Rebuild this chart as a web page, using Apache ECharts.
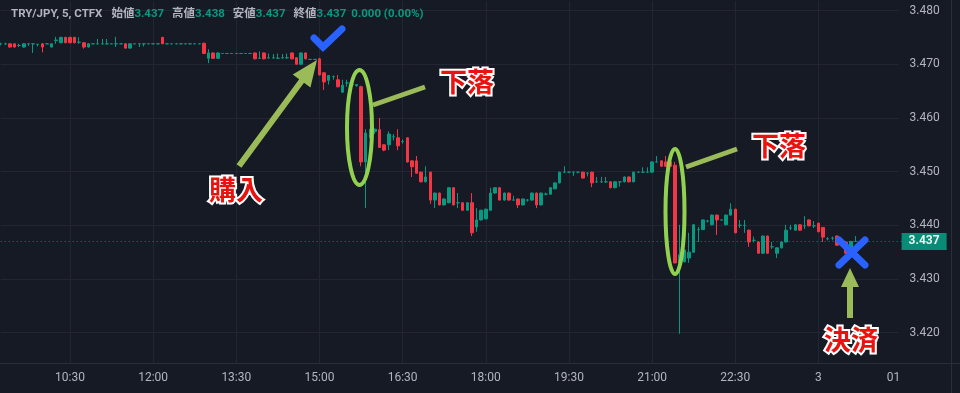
<!DOCTYPE html>
<html><head><meta charset="utf-8">
<script src="https://cdn.jsdelivr.net/npm/echarts@6/dist/echarts.min.js"></script>
<style>html,body{margin:0;padding:0;background:#161a25;}#c{width:960px;height:393px;}</style>
</head><body><div id="c"></div>
<script>
// ---------- data ----------
const symbolText = 'TRY/JPY, 5, CTFX';
const startTime = '09:15';
const categoryCount = 196;            // 5-minute slots shown on the axis
const tickTimes = ['10:30','12:00','13:30','15:00','16:30','18:00','19:30','21:00','22:30','00:00','01:30'];
const tickLabelMap = {'00:00':'3'};
const priceTicks = [3.42,3.43,3.44,3.45,3.46,3.47,3.48];
const priceMin = 3.41, priceMax = 3.48196;
// candles: [open, close, low, high]
const session0915 = [
 [3.4738,3.4738,3.4735,3.4740],[3.4738,3.4738,3.4736,3.4740],[3.4738,3.4732,3.4731,3.4739],
 [3.4738,3.4732,3.4731,3.4739],[3.4735,3.4735,3.4732,3.4738],[3.4732,3.4738,3.4731,3.4739],
 [3.4738,3.4738,3.4734,3.4739],[3.4738,3.4738,3.4721,3.4739],[3.4737,3.4737,3.4733,3.4738],
 [3.4738,3.4732,3.4722,3.4739],[3.4738,3.4738,3.4738,3.4738],[3.4732,3.4738,3.4731,3.4738],
 [3.4744,3.4745,3.4738,3.4751],[3.4740,3.4750,3.4739,3.4751],[3.4750,3.4740,3.4739,3.4751]
];
const session1030 = [
 [3.4750,3.4740,3.4739,3.4751],[3.4750,3.4740,3.4739,3.4751],[3.4741,3.4741,3.4738,3.4750],
 [3.4740,3.4732,3.4729,3.4741],[3.4732,3.4738,3.4731,3.4739],[3.4738,3.4738,3.4738,3.4738],
 [3.4738,3.4738,3.4737,3.4747],[3.4738,3.4738,3.4737,3.4747],[3.4738,3.4738,3.4737,3.4747],
 [3.4738,3.4738,3.4738,3.4738],[3.4738,3.4738,3.4732,3.4751],[3.4738,3.4738,3.4738,3.4738],
 [3.4738,3.4730,3.4729,3.4739],[3.4730,3.4738,3.4729,3.4739],[3.4738,3.4738,3.4738,3.4738],
 [3.4738,3.4738,3.4732,3.4739],[3.4738,3.4738,3.4733,3.4739],[3.4738,3.4738,3.4738,3.4738]
];
const session1200 = [
 [3.4738,3.4738,3.4738,3.4738],[3.4738,3.4738,3.4738,3.4738],[3.4750,3.4738,3.4738,3.4751],
 [3.4738,3.4738,3.4738,3.4738],[3.4738,3.4738,3.4738,3.4738],[3.4738,3.4738,3.4738,3.4738],
 [3.4738,3.4738,3.4738,3.4738],[3.4738,3.4738,3.4738,3.4738],[3.4738,3.4738,3.4738,3.4738],
 [3.4738,3.4738,3.4738,3.4738],[3.4738,3.4738,3.4738,3.4738],[3.4739,3.4720,3.4719,3.4740],
 [3.4711,3.4721,3.4702,3.4728],[3.4721,3.4711,3.4710,3.4722],[3.4711,3.4721,3.4710,3.4722],
 [3.4720,3.4720,3.4720,3.4720],[3.4720,3.4720,3.4720,3.4720],[3.4720,3.4720,3.4720,3.4720]
];
const session1330 = [
 [3.4720,3.4720,3.4720,3.4720],[3.4720,3.4720,3.4720,3.4720],[3.4720,3.4720,3.4720,3.4720],
 [3.4720,3.4720,3.4720,3.4720],[3.4721,3.4710,3.4709,3.4722],[3.4711,3.4711,3.4710,3.4724],
 [3.4721,3.4710,3.4709,3.4722],[3.4712,3.4712,3.4710,3.4720],[3.4712,3.4712,3.4710,3.4719],
 [3.4711,3.4711,3.4710,3.4720],[3.4712,3.4712,3.4710,3.4719],[3.4712,3.4712,3.4710,3.4720],
 [3.4721,3.4710,3.4709,3.4722],[3.4712,3.4700,3.4699,3.4713],[3.4700,3.4721,3.4699,3.4722],
 [3.4721,3.4710,3.4709,3.4722],[3.4709,3.4709,3.4709,3.4709],[3.4709,3.4709,3.4709,3.4709]
];
const session1500 = [
 [3.4710,3.4680,3.4679,3.4712],[3.4684,3.4667,3.4652,3.4685],[3.4670,3.4679,3.4662,3.4680],
 [3.4677,3.4677,3.4671,3.4679],[3.4671,3.4658,3.4657,3.4680],[3.4648,3.4661,3.4647,3.4671],
 [3.4665,3.4665,3.4658,3.4671],[3.4662,3.4662,3.4658,3.4671],[3.4660,3.4662,3.4658,3.4663],
 [3.4658,3.4518,3.4510,3.4660],[3.4518,3.4572,3.4432,3.4579],[3.4563,3.4579,3.4562,3.4580],
 [3.4575,3.4579,3.4570,3.4580],[3.4578,3.4545,3.4544,3.4600],[3.4550,3.4540,3.4538,3.4551],
 [3.4550,3.4570,3.4540,3.4575],[3.4565,3.4565,3.4558,3.4570],[3.4563,3.4548,3.4540,3.4579]
];
const session1630 = [
 [3.4556,3.4556,3.4552,3.4560],[3.4563,3.4518,3.4517,3.4564],[3.4520,3.4509,3.4490,3.4521],
 [3.4520,3.4497,3.4496,3.4529],[3.4499,3.4481,3.4480,3.4500],[3.4481,3.4490,3.4480,3.4510],
 [3.4499,3.4447,3.4440,3.4500],[3.4447,3.4460,3.4432,3.4461],[3.4460,3.4438,3.4437,3.4461],
 [3.4438,3.4449,3.4437,3.4450],[3.4442,3.4470,3.4441,3.4471],[3.4470,3.4438,3.4437,3.4471],
 [3.4442,3.4442,3.4432,3.4460],[3.4442,3.4428,3.4427,3.4443],[3.4428,3.4442,3.4427,3.4443],
 [3.4442,3.4386,3.4380,3.4460],[3.4397,3.4410,3.4388,3.4432],[3.4410,3.4428,3.4409,3.4429]
];
const session1800 = [
 [3.4412,3.4430,3.4411,3.4431],[3.4428,3.4460,3.4427,3.4470],[3.4460,3.4470,3.4459,3.4471],
 [3.4470,3.4447,3.4446,3.4471],[3.4447,3.4460,3.4446,3.4461],[3.4460,3.4447,3.4446,3.4461],
 [3.4447,3.4447,3.4446,3.4455],[3.4449,3.4438,3.4432,3.4450],[3.4438,3.4449,3.4437,3.4450],
 [3.4447,3.4447,3.4444,3.4449],[3.4447,3.4460,3.4446,3.4461],[3.4460,3.4438,3.4432,3.4461],
 [3.4438,3.4460,3.4437,3.4461],[3.4458,3.4458,3.4456,3.4461],[3.4458,3.4470,3.4457,3.4471],
 [3.4468,3.4479,3.4467,3.4480],[3.4479,3.4499,3.4478,3.4500],[3.4499,3.4499,3.4498,3.4510]
];
const session1930 = [
 [3.4499,3.4499,3.4498,3.4500],[3.4499,3.4499,3.4492,3.4500],[3.4499,3.4499,3.4497,3.4500],
 [3.4499,3.4488,3.4487,3.4500],[3.4497,3.4497,3.4491,3.4499],[3.4499,3.4479,3.4471,3.4500],
 [3.4481,3.4481,3.4479,3.4490],[3.4481,3.4481,3.4479,3.4490],[3.4481,3.4481,3.4479,3.4490],
 [3.4481,3.4470,3.4469,3.4482],[3.4470,3.4481,3.4469,3.4482],[3.4481,3.4481,3.4472,3.4482],
 [3.4481,3.4490,3.4480,3.4491],[3.4490,3.4481,3.4480,3.4491],[3.4481,3.4499,3.4480,3.4500],
 [3.4499,3.4499,3.4498,3.4500],[3.4499,3.4499,3.4498,3.4508],[3.4499,3.4499,3.4498,3.4508]
];
const session2100 = [
 [3.4499,3.4518,3.4498,3.4519],[3.4518,3.4518,3.4517,3.4529],[3.4520,3.4510,3.4509,3.4521],
 [3.4518,3.4510,3.4509,3.4529],[3.4518,3.4510,3.4509,3.4519],[3.4512,3.4330,3.4329,3.4518],
 [3.4330,3.4345,3.4198,3.4401],[3.4332,3.4354,3.4331,3.4355],[3.4339,3.4350,3.4330,3.4386],
 [3.4350,3.4401,3.4349,3.4402],[3.4392,3.4392,3.4369,3.4397],[3.4392,3.4410,3.4391,3.4411],
 [3.4408,3.4408,3.4405,3.4410],[3.4401,3.4419,3.4400,3.4420],[3.4419,3.4410,3.4382,3.4420],
 [3.4410,3.4410,3.4409,3.4411],[3.4401,3.4419,3.4400,3.4420],[3.4419,3.4430,3.4418,3.4441]
];
const session2230 = [
 [3.4430,3.4386,3.4385,3.4431],[3.4400,3.4400,3.4395,3.4410],[3.4400,3.4400,3.4386,3.4410],
 [3.4391,3.4369,3.4360,3.4392],[3.4372,3.4372,3.4368,3.4379],[3.4369,3.4348,3.4347,3.4370],
 [3.4348,3.4380,3.4347,3.4381],[3.4380,3.4348,3.4347,3.4381],[3.4360,3.4360,3.4356,3.4369],
 [3.4348,3.4358,3.4339,3.4359],[3.4358,3.4369,3.4357,3.4370],[3.4369,3.4391,3.4368,3.4401],
 [3.4395,3.4395,3.4391,3.4401],[3.4391,3.4401,3.4390,3.4402],[3.4401,3.4391,3.4390,3.4402],
 [3.4399,3.4399,3.4393,3.4417],[3.4410,3.4399,3.4398,3.4411],[3.4399,3.4399,3.4395,3.4408]
];
const session0000 = [
 [3.4404,3.4388,3.4387,3.4405],[3.4396,3.4378,3.4369,3.4397],[3.4375,3.4375,3.4372,3.4378],
 [3.4376,3.4376,3.4372,3.4379],[3.4380,3.4363,3.4362,3.4381],[3.4370,3.4370,3.4366,3.4372],
 [3.4369,3.4348,3.4347,3.4370],[3.4348,3.4370,3.4347,3.4371],[3.437,3.437,3.437,3.438]
];
// annotation texts
const labelBuy = '購入', labelDrop = '下落', labelExit = '決済';

// ---------- build ----------
const candles = [].concat(session0915, session1030, session1200, session1330, session1500,
  session1630, session1800, session1930, session2100, session2230, session0000);
const times = [];
(function(){ const p = startTime.split(':').map(Number); const s = p[0]*60+p[1];
  for (let k=0;k<categoryCount;k++){ const t=s+5*k; const hh=Math.floor(t/60)%24, mm=t%60;
    times.push(String(hh).padStart(2,'0')+':'+String(mm).padStart(2,'0')); } })();

const BG = '#161a25', GRID = '#232632', TXT = '#b2b5be', UP = '#089981', DOWN = '#f23645';
const last = candles[candles.length-1], prev = candles[candles.length-2];
const f3 = v => v.toFixed(3);
const chg = last[1]-prev[1];
const pct = chg/prev[1]*100;
const FONT = 'Roboto, "Noto Sans CJK JP", sans-serif';

const chart = echarts.init(document.getElementById('c'), null, {renderer:'canvas'});

function arrow(x1,y1,x2,y2,sw,hl,hw){
  const dx=x2-x1, dy=y2-y1, L=Math.hypot(dx,dy), ux=dx/L, uy=dy/L, nx=-uy, ny=ux;
  const bx=x2-ux*hl, by=y2-uy*hl;
  return [[x1+nx*sw/2,y1+ny*sw/2],[bx+nx*sw/2,by+ny*sw/2],[bx+nx*hw,by+ny*hw],[x2,y2],
          [bx-nx*hw,by-ny*hw],[bx-nx*sw/2,by-ny*sw/2],[x1-nx*sw/2,y1-ny*sw/2]];
}
const OLIVE = '#9bbb59', LIME = '#92d050', BLUE = '#2962ff', RED = '#e8130f';
const txtStyle = t => ({text:t, fill:RED, stroke:'#ffffff', lineWidth:4,
  font:'bold 27px "Noto Sans CJK JP"', align:'center', verticalAlign:'middle'});
const HF = 11.5;

const option = {
  backgroundColor: BG,
  animation: false,
  title: {
    left: 6, top: 3,
    text: `{s|${symbolText}}{l|始値}{v|${f3(last[0])}}{l|高値}{v|${f3(last[3])}}{l|安値}{v|${f3(last[2])}}{l|終値}{v|${f3(last[1])}}{c|${chg.toFixed(3)} (${pct.toFixed(2)}%)}`,
    textStyle: { rich: {
      s:{color:TXT, fontSize:HF, fontFamily:FONT, padding:[0,9,0,0]},
      l:{color:TXT, fontSize:HF, fontFamily:FONT},
      v:{color:UP, fontSize:HF, fontFamily:FONT, padding:[0,8,0,0]},
      c:{color:UP, fontSize:HF, fontFamily:FONT, padding:[0,0,0,-3]}
    }}
  },
  grid: {left:0.7, right:58.4, top:0, bottom:6.6},
  xAxis: [
    {type:'category', data:times, boundaryGap:false, position:'top', z:0,
     axisLine:{show:false}, axisTick:{show:false}, axisLabel:{show:false},
     splitLine:{show:true, interval:(i,v)=>tickTimes.includes(v), lineStyle:{color:GRID, width:1}}},
    {type:'category', data:times, boundaryGap:false, position:'bottom', offset:-23.4, z:2,
     axisLine:{show:false}, axisTick:{show:false}, splitLine:{show:false},
     axisLabel:{interval:(i,v)=>tickTimes.includes(v), formatter:v=>tickLabelMap[v]||v,
       color:TXT, fontSize:12, margin:9, fontFamily:FONT}}
  ],
  yAxis: [
    {type:'value', min:priceMin, max:priceMax, interval:0.01, position:'left', z:0,
     axisLine:{show:false}, axisTick:{show:false}, axisLabel:{show:false},
     splitLine:{show:true, lineStyle:{color:GRID, width:1}}},
    {type:'value', min:priceMin, max:priceMax, interval:0.01, position:'right', z:4,
     axisLine:{show:false}, axisTick:{show:false}, splitLine:{show:false},
     axisLabel:{formatter:v=>priceTicks.some(p=>Math.abs(p-v)<1e-6)?v.toFixed(3):'',
       color:TXT, fontSize:12, margin:8, align:'left', fontFamily:FONT}}
  ],
  series: [{
    type:'candlestick', data:candles, xAxisIndex:0, yAxisIndex:0, z:5,
    barWidth:3,
    itemStyle:{color:UP, color0:DOWN, borderColor:UP, borderColor0:DOWN, borderColorDoji:UP, borderWidth:1},
    markLine:{
      silent:true, symbol:['none','none'], animation:false, precision:4,
      data:[{yAxis:last[1]}],
      lineStyle:{color:UP, type:[1,3], width:1, opacity:0.9},
      label:{show:true, position:'end', distance:0, formatter:f3(last[1]),
        backgroundColor:UP, color:'#ffffff', fontSize:12, fontWeight:'bold', fontFamily:FONT,
        padding:[3,7,2,7]}
    }
  }],
  graphic: [
    {type:'rect', z:1, silent:true, shape:{x:0,y:0,width:960,height:1}, style:{fill:BG}},
    {type:'rect', z:1, silent:true, shape:{x:0,y:363.5,width:960,height:30}, style:{fill:BG}},
    {type:'rect', z:3, silent:true, shape:{x:898.5,y:0,width:62,height:393}, style:{fill:BG}},
    {type:'line', z:3, silent:true, shape:{x1:0,y1:363.5,x2:960,y2:363.5}, style:{stroke:'#2a2e39',lineWidth:1}},
    {type:'line', z:3, silent:true, shape:{x1:951.5,y1:0,x2:951.5,y2:393}, style:{stroke:'#2a2e39',lineWidth:1}},
    // annotations
    {type:'polyline', z:10, shape:{points:[[314,38],[323,47],[342,29]]}, style:{stroke:BLUE, lineWidth:7, fill:null, lineCap:'round', lineJoin:'miter'}},
    {type:'polygon', z:10, shape:{points:arrow(239,166,317,60,6,26,11)}, style:{fill:OLIVE}},
    {type:'text', z:11, x:236, y:190, style:txtStyle(labelBuy)},
    {type:'ellipse', z:10, shape:{cx:359.5,cy:127.5,rx:12.5,ry:57.5}, style:{fill:null, stroke:LIME, lineWidth:4}},
    {type:'line', z:10, shape:{x1:373,y1:105,x2:425,y2:87}, style:{stroke:OLIVE, lineWidth:5}},
    {type:'text', z:11, x:467, y:82, style:txtStyle(labelDrop)},
    {type:'ellipse', z:10, shape:{cx:675,cy:211.5,rx:9.5,ry:62.5}, style:{fill:null, stroke:LIME, lineWidth:4}},
    {type:'line', z:10, shape:{x1:686,y1:167,x2:737,y2:149}, style:{stroke:OLIVE, lineWidth:5}},
    {type:'text', z:11, x:779, y:146, style:txtStyle(labelDrop)},
    {type:'line', z:10, shape:{x1:839,y1:240,x2:865,y2:265}, style:{stroke:BLUE, lineWidth:7, lineCap:'round'}},
    {type:'line', z:10, shape:{x1:865,y1:240,x2:839,y2:265}, style:{stroke:BLUE, lineWidth:7, lineCap:'round'}},
    {type:'polygon', z:10, shape:{points:arrow(850,318,850,268,6,19,9)}, style:{fill:OLIVE}},
    {type:'text', z:11, x:851, y:340, style:txtStyle(labelExit)}
  ]
};
chart.setOption(option);
</script></body></html>
